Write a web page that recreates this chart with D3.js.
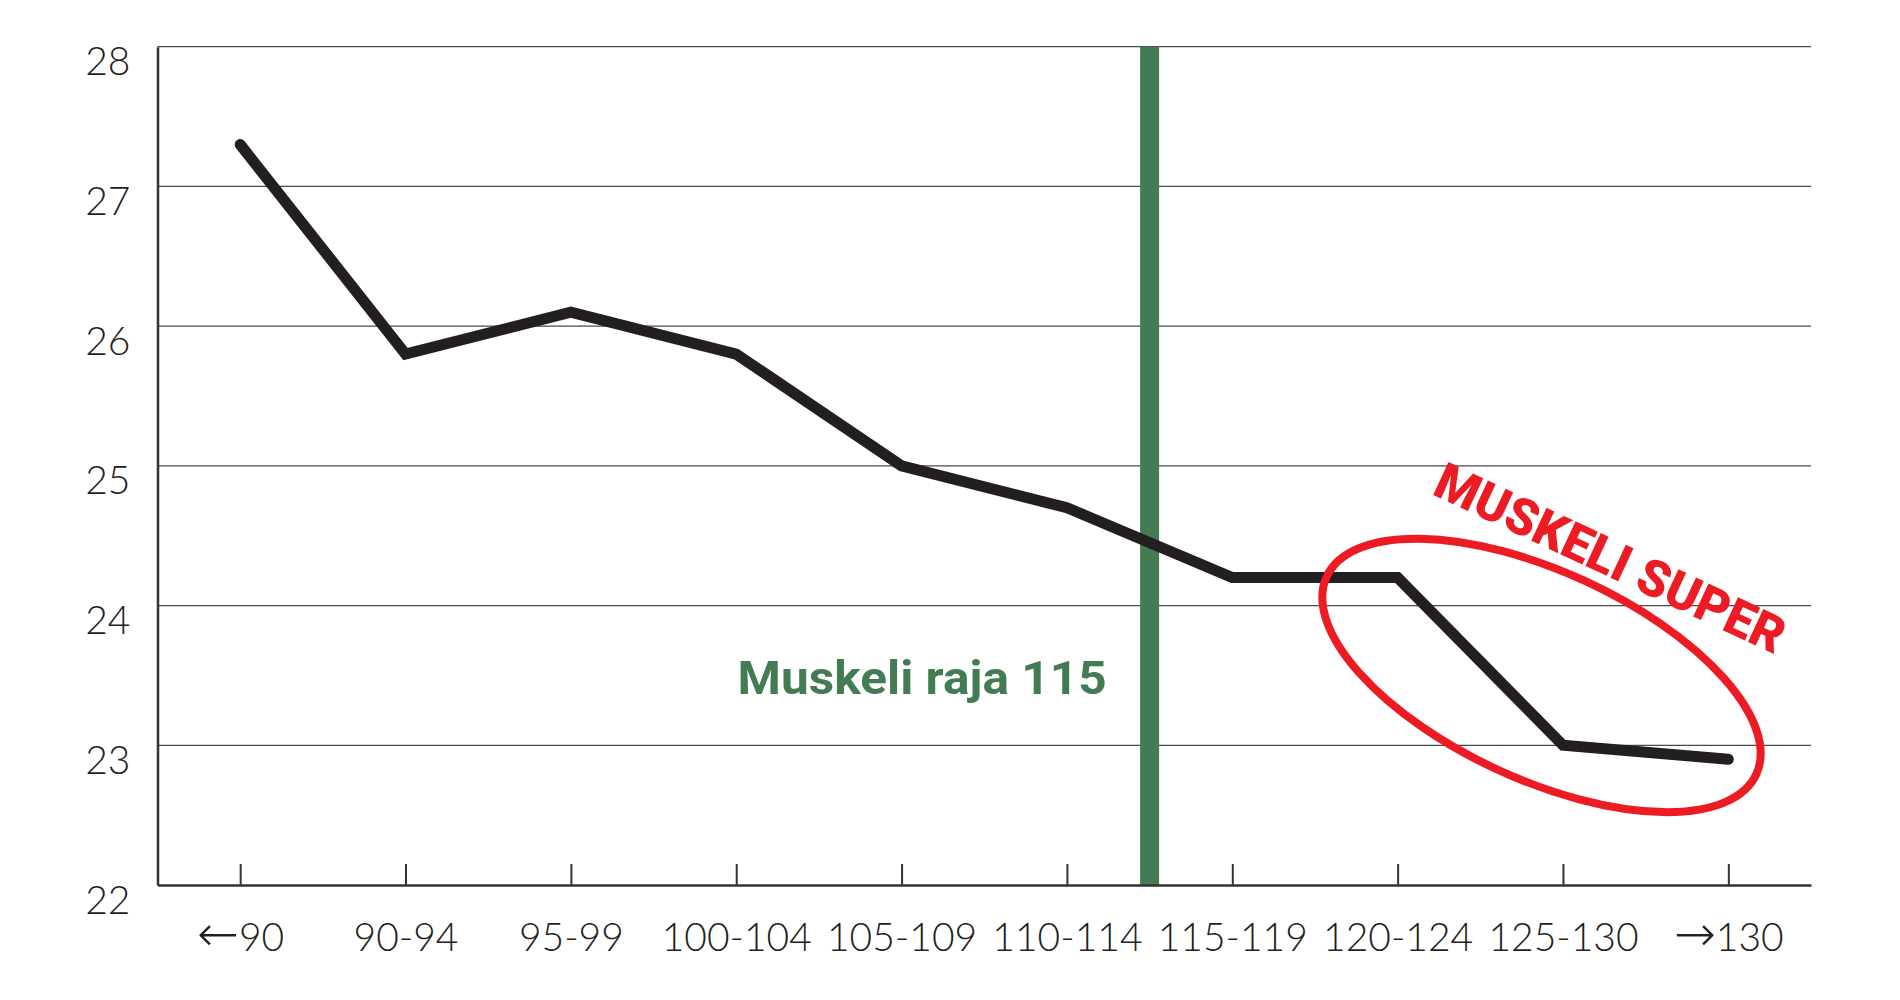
<!DOCTYPE html>
<html>
<head>
<meta charset="utf-8">
<script src="https://cdn.jsdelivr.net/npm/d3@7"></script>
<style>
  html, body { margin: 0; padding: 0; background: #ffffff; }
  svg { display: block; }
</style>
</head>
<body>
<svg id="chart" width="1900" height="1000"></svg>
<script>
// ---- data ----
const categories = ["←90", "90-94", "95-99", "100-104", "105-109", "110-114", "115-119", "120-124", "125-130", "→130"];
const values = [27.3, 25.8, 26.1, 25.8, 25.0, 24.7, 24.2, 24.2, 23.0, 22.9];
const yTicks = [22, 23, 24, 25, 26, 27, 28];
const markerLabel = "Muskeli raja 115";
const markerPosition = 5.5;            // between "110-114" and "115-119"
const highlightLabel = "MUSKELI SUPER";

(function () {
  // ---- layout ----
  const plotLeft = 157.5, plotRight = 1811, plotTop = 46.7, plotBottom = 885;
  const svg = d3.select("#chart");
  const fontLight = "Lato, Roboto, 'Noto Sans', 'DejaVu Sans', sans-serif";

  const x = d3.scalePoint().domain(categories).range([plotLeft, plotRight]).padding(0.5);
  const y = d3.scaleLinear().domain([22, 28]).range([plotBottom, plotTop]);
  const step = x.step();
  const xAt = i => x(categories[0]) + i * step;

  // gridlines
  svg.append("g").selectAll("line")
    .data(yTicks.filter(d => d !== 22))
    .join("line")
    .attr("x1", plotLeft).attr("x2", plotRight)
    .attr("y1", d => y(d)).attr("y2", d => y(d))
    .attr("stroke", "#4a4a4a").attr("stroke-width", 1.3);

  // green marker bar
  svg.append("line")
    .attr("x1", xAt(markerPosition)).attr("x2", xAt(markerPosition))
    .attr("y1", y(28)).attr("y2", y(22))
    .attr("stroke", "#437b52").attr("stroke-width", 19);

  // y axis
  const yAxis = svg.append("g")
    .attr("transform", `translate(${plotLeft},0)`)
    .call(d3.axisLeft(y).tickValues(yTicks).tickFormat(d3.format("d")).tickSize(0).tickPadding(27));
  yAxis.select(".domain").attr("stroke", "#333").attr("stroke-width", 2.5);
  yAxis.selectAll("text")
    .attr("dy", "0.72em")
    .attr("fill", "#231f20")
    .style("font-family", fontLight)
    .style("font-weight", 300)
    .style("font-size", "39px");

  // x axis
  const xAxis = svg.append("g")
    .attr("transform", `translate(0,${plotBottom})`)
    .call(d3.axisBottom(x).tickSizeInner(-21).tickSizeOuter(0).tickPadding(38));
  xAxis.select(".domain").attr("stroke", "#333").attr("stroke-width", 2.5);
  xAxis.selectAll(".tick line").attr("stroke", "#333").attr("stroke-width", 2);
  xAxis.selectAll("text")
    .attr("dy", "0.72em")
    .attr("fill", "#231f20")
    .style("font-family", fontLight)
    .style("font-weight", 300)
    .style("font-size", "39px")
    .each(function (d) {
      const t = d3.select(this);
      const first = d.charAt(0);
      if (first === "←" || first === "→") {
        t.text(null);
        t.append("tspan")
          .style("font-family", "'DejaVu Sans', sans-serif")
          .style("font-weight", 200)
          .style("font-size", "50px")
          .text(first);
        t.append("tspan").text(d.slice(1));
      }
    });

  // data line
  const line = d3.line()
    .x((d, i) => x(categories[i]))
    .y(d => y(d));
  svg.append("path")
    .datum(values)
    .attr("d", line)
    .attr("fill", "none")
    .attr("stroke", "#231f20")
    .attr("stroke-width", 11)
    .attr("stroke-linecap", "round")
    .attr("stroke-linejoin", "miter");

  // marker label
  svg.append("text")
    .attr("x", xAt(markerPosition) - 43)
    .attr("y", y(23.37))
    .attr("text-anchor", "end")
    .attr("fill", "#437b52")
    .attr("textLength", 369)
    .attr("lengthAdjust", "spacingAndGlyphs")
    .style("font-family", "Roboto, 'Noto Sans', 'DejaVu Sans', sans-serif")
    .style("font-weight", 700)
    .style("font-size", "47px")
    .text(markerLabel);

  // highlight ellipse
  const cx = xAt(7.87), cy = y(23.5);
  svg.append("ellipse")
    .attr("cx", 0).attr("cy", 0)
    .attr("rx", 1.43 * step).attr("ry", 104)
    .attr("transform", `translate(${cx},${cy}) rotate(24.7)`)
    .attr("fill", "none")
    .attr("stroke", "#ed1c24")
    .attr("stroke-width", 8);

  // highlight label
  svg.append("text")
    .attr("transform", `translate(${xAt(7.2)},${y(25.0) + 28}) rotate(25)`)
    .attr("fill", "#ed1c24")
    .attr("textLength", 380)
    .attr("lengthAdjust", "spacingAndGlyphs")
    .style("font-family", "Roboto, 'Noto Sans', 'DejaVu Sans', sans-serif")
    .style("font-weight", 900)
    .style("font-size", "51px")
    .text(highlightLabel);
})();
</script>
</body>
</html>
